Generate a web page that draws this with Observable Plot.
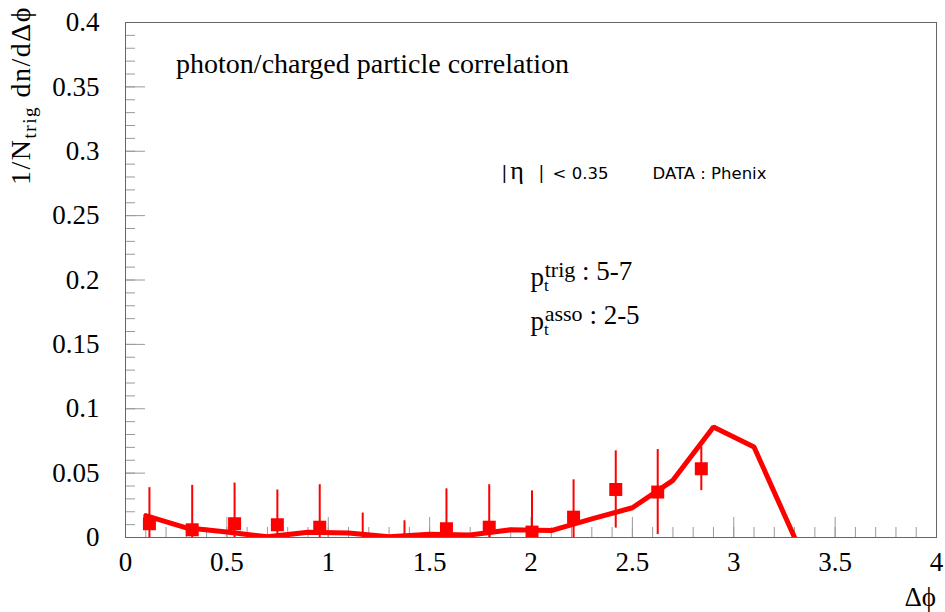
<!DOCTYPE html>
<html><head><meta charset="utf-8">
<script src="https://cdn.jsdelivr.net/npm/d3@7"></script>
<script src="https://cdn.jsdelivr.net/npm/@observablehq/plot@0.6"></script>
<style>body{margin:0;background:#fff}</style>
</head><body><div id="chart"></div>
<script>
// measured data points (squares with vertical error bars)
const pointX = [0.118, 0.329, 0.538, 0.749, 0.958, 1.17, 1.376, 1.583, 1.794, 2.005, 2.21, 2.418, 2.625, 2.84];
const pointY = [0.0107, 0.006, 0.0107, 0.0099, 0.008, -0.01, -0.015, 0.0068, 0.008, 0.0042, 0.0158, 0.0373, 0.0353, 0.0534];
const pointErr = [0.028, 0.0345, 0.0316, 0.027, 0.033, 0.029, 0.028, 0.031, 0.033, 0.032, 0.029, 0.030, 0.033, 0.017];
// theory curve
const curveX = [0.1, 0.3, 0.5, 0.7, 0.9, 1.1, 1.3, 1.5, 1.7, 1.9, 2.1, 2.3, 2.5, 2.7, 2.9, 3.1, 3.3];
const curveY = [0.017, 0.0075, 0.0042, 0.0005, 0.004, 0.0035, 0.0005, 0.0025, 0.002, 0.006, 0.0054, 0.0145, 0.0231, 0.0444, 0.0858, 0.0703, 0];
// axis ticks
const yMajor = [0, 0.05, 0.1, 0.15, 0.2, 0.25, 0.3, 0.35, 0.4];
const yLabels = ["0", "0.05", "0.1", "0.15", "0.2", "0.25", "0.3", "0.35", "0.4"];
const xMajor = [0, 0.5, 1, 1.5, 2, 2.5, 3, 3.5, 4];
const xLabels = ["0", "0.5", "1", "1.5", "2", "2.5", "3", "3.5", "4"];
const yMinor = d3.ticks(0, 0.4, 40);
const xMinor = d3.ticks(0, 4, 40);

const data = pointX.map((x, i) => ({x, y: pointY[i], e: pointErr[i]}));
const curve = curveX.map((x, i) => ({x, y: curveY[i]}));

const W = 945, H = 612, mL = 125, mR = 9, mT = 22, mB = 75;
const innerW = W - mL - mR, innerH = H - mT - mB;
const serif = "'Liberation Serif', 'Times New Roman', serif";
const tickColor = "#9a9a9a";

const plot = Plot.plot({
  width: W, height: H,
  marginLeft: mL, marginRight: mR, marginTop: mT, marginBottom: mB,
  x: {domain: [0, 4]},
  y: {domain: [0, 0.4]},
  style: {fontFamily: serif, background: "white", color: "black"},
  marks: [
    Plot.tickY(yMinor, {stroke: tickColor, insetRight: innerW - 10}),
    Plot.tickY(yMajor, {stroke: tickColor, insetRight: innerW - 20}),
    Plot.tickX(xMinor, {stroke: tickColor, insetTop: innerH - 10}),
    Plot.tickX(xMajor, {stroke: tickColor, insetTop: innerH - 20}),
    Plot.ruleX(data, {x: "x", y1: d => d.y - d.e, y2: d => d.y + d.e, stroke: "#ff0000", strokeWidth: 2, clip: true}),
    Plot.line(curve, {x: "x", y: "y", stroke: "#ff0000", strokeWidth: 5, strokeLinejoin: "miter", clip: true}),
    Plot.dot(data, {x: "x", y: "y", symbol: "square", r: 7.33, fill: "#ff0000", stroke: "none", clip: true}),
    Plot.frame({stroke: "#666"}),
    Plot.axisY(yMajor, {tickSize: 0, tickPadding: 26, tickFormat: d => yLabels[yMajor.indexOf(d)], fontSize: 27, label: null}),
    Plot.axisX(xMajor, {tickSize: 0, tickPadding: 14, tickFormat: d => xLabels[xMajor.indexOf(d)], fontSize: 27, label: null})
  ]
});
document.getElementById("chart").appendChild(plot);

const svg = d3.select(plot);
const xs = plot.scale("x"), ys = plot.scale("y");
const X = v => xs.apply(v), Y = v => ys.apply(v);
const PHI = "\u03D5";

// y-axis title
const yt = svg.append("text")
  .attr("transform", `translate(30, ${Y(0.4) - 16}) rotate(-90)`)
  .attr("text-anchor", "end")
  .attr("letter-spacing", 1.5)
  .attr("font-family", serif).attr("font-size", 28).attr("fill", "black");
yt.append("tspan").text("1/N");
yt.append("tspan").attr("font-size", 19).attr("dy", 6).text("trig");
yt.append("tspan").attr("dy", -6).text(" dn/dΔ" + PHI);

// x-axis title
svg.append("text")
  .attr("x", X(4)).attr("y", Y(0) + 69)
  .attr("text-anchor", "end")
  .attr("font-family", serif).attr("font-size", 27).attr("fill", "black")
  .text("Δ" + PHI);

// annotations (positions in data units)
function label(xv, yv, font, size, txt) {
  return svg.append("text").attr("x", X(xv)).attr("y", Y(yv))
    .attr("text-anchor", "start")
    .attr("font-family", font).attr("font-size", size).attr("fill", "black").text(txt);
}
label(0.252, 0.3604, serif, 28, "photon/charged particle correlation");

const sans = "'DejaVu Sans', sans-serif";
label(1.857, 0.278, sans, 17, "|");
label(1.900, 0.278, serif, 26, "η");
label(2.040, 0.278, sans, 17, "|");
label(2.109, 0.278, sans, 16.5, "< 0.35");
label(2.602, 0.278, sans, 16.5, "DATA : Phenix");

function ptLabel(xv, yv, sup, rest) {
  const t = svg.append("text").attr("x", X(xv)).attr("y", Y(yv))
    .attr("text-anchor", "start")
    .attr("font-family", serif).attr("font-size", 27).attr("fill", "black");
  t.append("tspan").attr("dy", 6).text("p");
  t.append("tspan").attr("font-size", 17).attr("dy", 5).text("t");
  t.append("tspan").attr("font-size", 22).attr("dx", -4).attr("dy", -14).text(sup);
  t.append("tspan").attr("dy", 3).text(" : " + rest);
}
ptLabel(2.0, 0.1995, "trig", "5-7");
ptLabel(2.0, 0.1652, "asso", "2-5");
</script>
</body></html>
